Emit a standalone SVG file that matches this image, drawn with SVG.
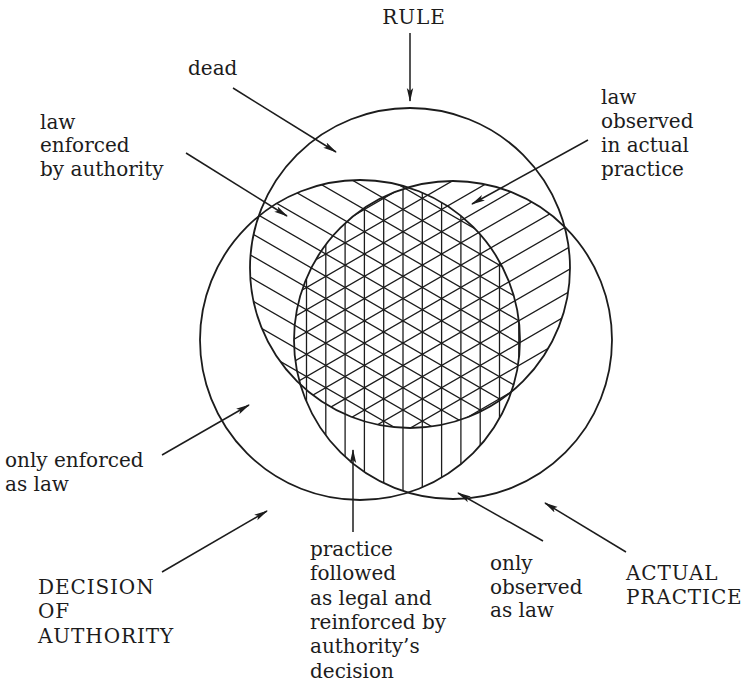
<svg xmlns="http://www.w3.org/2000/svg" xmlns:xlink="http://www.w3.org/1999/xlink" width="742" height="685" viewBox="0 0 742 685">
<style>
.circ{fill:none;stroke:#1c1c1c;stroke-width:1.8}
.hatch{fill:none;stroke:#1c1c1c;stroke-width:1.3}
.arr{fill:none;stroke:#1c1c1c;stroke-width:1.5;marker-end:url(#ah)}
.t{font-family:"DejaVu Serif","Liberation Serif",serif;font-size:20px;fill:#1c1c1c}
.caps{letter-spacing:0.9px}
</style>
<defs>
<marker id="ah" viewBox="0 0 14 8" markerWidth="14" markerHeight="8" refX="13" refY="4" orient="auto" markerUnits="userSpaceOnUse">
<path d="M0,0.8 L14,4 L0,7.2 L3,4 Z" fill="#1c1c1c"/>
</marker>
<circle id="cT" cx="410" cy="268" r="160"/>
<circle id="cL" cx="360" cy="340" r="160"/>
<circle id="cR" cx="453" cy="340" r="159"/>
<clipPath id="clipT"><use xlink:href="#cT"/></clipPath>
<clipPath id="clipL"><use xlink:href="#cL"/></clipPath>
<clipPath id="clipR"><use xlink:href="#cR"/></clipPath>
<path id="lines" d="M100 120.5H720M100 139.8H720M100 159.1H720M100 178.4H720M100 197.7H720M100 217H720M100 236.3H720M100 255.6H720M100 274.9H720M100 294.2H720M100 313.5H720M100 332.8H720M100 352.1H720M100 371.4H720M100 390.7H720M100 410H720M100 429.3H720M100 448.6H720M100 467.9H720M100 487.2H720M100 506.5H720M100 525.8H720M100 545.1H720M100 564.4H720M100 583.7H720M100 603H720M100 622.3H720M100 641.6H720M100 660.9H720M100 680.2H720M100 699.5H720"/>
</defs>
<rect width="742" height="685" fill="#ffffff"/>

<g id="hatching">
<g clip-path="url(#clipT)"><g clip-path="url(#clipL)"><use xlink:href="#lines" class="hatch" transform="rotate(30 403 410)"/></g></g>
<g clip-path="url(#clipT)"><g clip-path="url(#clipR)"><use xlink:href="#lines" class="hatch" transform="rotate(-30 403 410)"/></g></g>
<g clip-path="url(#clipL)"><g clip-path="url(#clipR)"><use xlink:href="#lines" class="hatch" transform="rotate(90 403 410)"/></g></g>
</g>

<g id="rule"><use xlink:href="#cT" class="circ"/><text class="t caps" x="414" y="24" text-anchor="middle">RULE</text></g>
<g id="decision"><use xlink:href="#cL" class="circ"/><text class="t caps" x="38" y="594">DECISION</text><text class="t caps" x="38" y="618">OF</text><text class="t caps" x="38" y="643">AUTHORITY</text></g>
<g id="practice"><use xlink:href="#cR" class="circ"/><text class="t caps" x="626" y="580">ACTUAL</text><text class="t caps" x="626" y="604">PRACTICE</text></g>

<g id="label-dead"><text class="t" x="188" y="75">dead</text></g>
<g id="label-enforced"><text class="t" x="40" y="128.5">law</text><text class="t" x="40" y="152">enforced</text><text class="t" x="40" y="175.5">by authority</text></g>
<g id="label-observed"><text class="t" x="601" y="104">law</text><text class="t" x="601" y="128">observed</text><text class="t" x="601" y="152">in actual</text><text class="t" x="601" y="175.5">practice</text></g>
<g id="label-only-enforced"><text class="t" x="5" y="467">only enforced</text><text class="t" x="5" y="491">as law</text></g>
<g id="label-followed"><text class="t" x="310" y="556">practice</text><text class="t" x="310" y="580">followed</text><text class="t" x="310" y="605">as legal and</text><text class="t" x="310" y="629">reinforced by</text><text class="t" x="310" y="653">authority’s</text><text class="t" x="310" y="678">decision</text></g>
<g id="label-only-observed"><text class="t" x="490" y="570">only</text><text class="t" x="490" y="593.5">observed</text><text class="t" x="490" y="617">as law</text></g>

<g id="connectors">
<path class="arr" d="M410 33V101"/>
<path class="arr" d="M233 88L336 152"/>
<path class="arr" d="M186 153L287 216"/>
<path class="arr" d="M588 140L472 204"/>
<path class="arr" d="M162 455L249 405"/>
<path class="arr" d="M162 572L267 511"/>
<path class="arr" d="M353 532V450"/>
<path class="arr" d="M543 541L458 493"/>
<path class="arr" d="M626 552L545 503"/>
</g>
</svg>
